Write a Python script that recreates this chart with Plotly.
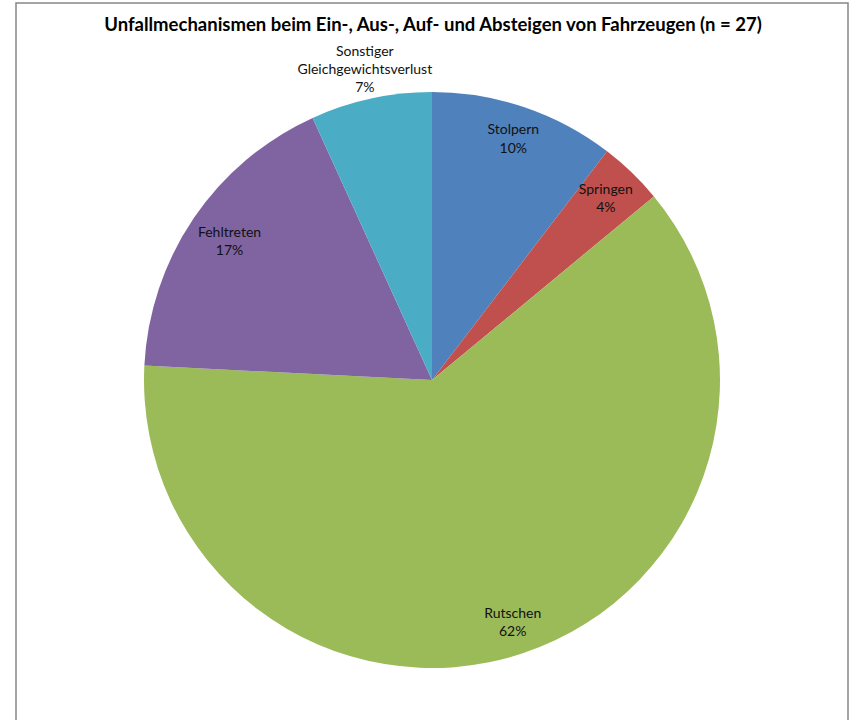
import plotly.graph_objects as go

# shares (percent of cases, n = 27)
labels = ["Stolpern", "Springen", "Rutschen", "Fehltreten", "Sonstiger<br>Gleichgewichtsverlust"]
values = [10.4, 3.6, 61.8, 17.4, 6.8]
colors = ["#4F81BD", "#C0504D", "#9BBB59", "#8064A2", "#4BACC6"]

W, H = 850, 720
cx, cy, r = 432, 380, 288
r_max = 1.15  # radial range leaves room for the outside label
R = r * r_max
dom = dict(x=[(cx - R) / W, (cx + R) / W], y=[1 - (cy + R) / H, 1 - (cy - R) / H])

# slices as full-radius polar bars; Excel-style labels on each slice's mid-angle
total = sum(values)
mid_deg, width_deg, cum = [], [], 0.0
for v in values:
    mid_deg.append(360 * (cum + v / 2) / total)
    width_deg.append(360 * v / total)
    cum += v
label_r = [0.88, 0.87, 0.89, 0.85, 1.1]
label_txt = [f"{l}<br>{round(100 * v / total)}%" for l, v in zip(labels, values)]

fig = go.Figure()
fig.add_barpolar(
    r=[1] * len(values), theta=mid_deg, width=width_deg,
    marker=dict(color=colors, line=dict(width=0)),
    text=labels, hoverinfo="text", showlegend=False,
)
fig.add_scatterpolar(
    r=label_r, theta=mid_deg, mode="text", text=label_txt, textposition="middle center",
    textfont=dict(family="Lato", size=14, color="#111111"),
    showlegend=False, hoverinfo="skip", cliponaxis=False,
)
fig.update_layout(
    width=W, height=H, margin=dict(l=0, r=0, t=0, b=0),
    paper_bgcolor="white",
    polar=dict(domain=dom, bgcolor="rgba(0,0,0,0)", bargap=0,
               radialaxis=dict(visible=False, range=[0, r_max]),
               angularaxis=dict(visible=False, rotation=90, direction="clockwise")),
    title=dict(text="<b>Unfallmechanismen beim Ein-, Aus-, Auf- und Absteigen von Fahrzeugen (n = 27)</b>",
               x=433 / W, xanchor="center", y=1 - 25 / H, yanchor="middle",
               font=dict(family="Lato", size=18.5, color="#000000")),
    shapes=[dict(type="rect", xref="paper", yref="paper",
                 x0=16 / W, x1=848 / W, y0=-0.05, y1=1 - 3 / H,
                 line=dict(color="#868686", width=1.5), fillcolor="rgba(0,0,0,0)")],
)
fig.write_html("out.html", config={"displayModeBar": False},
               post_script="document.body.style.margin = '0px';")
